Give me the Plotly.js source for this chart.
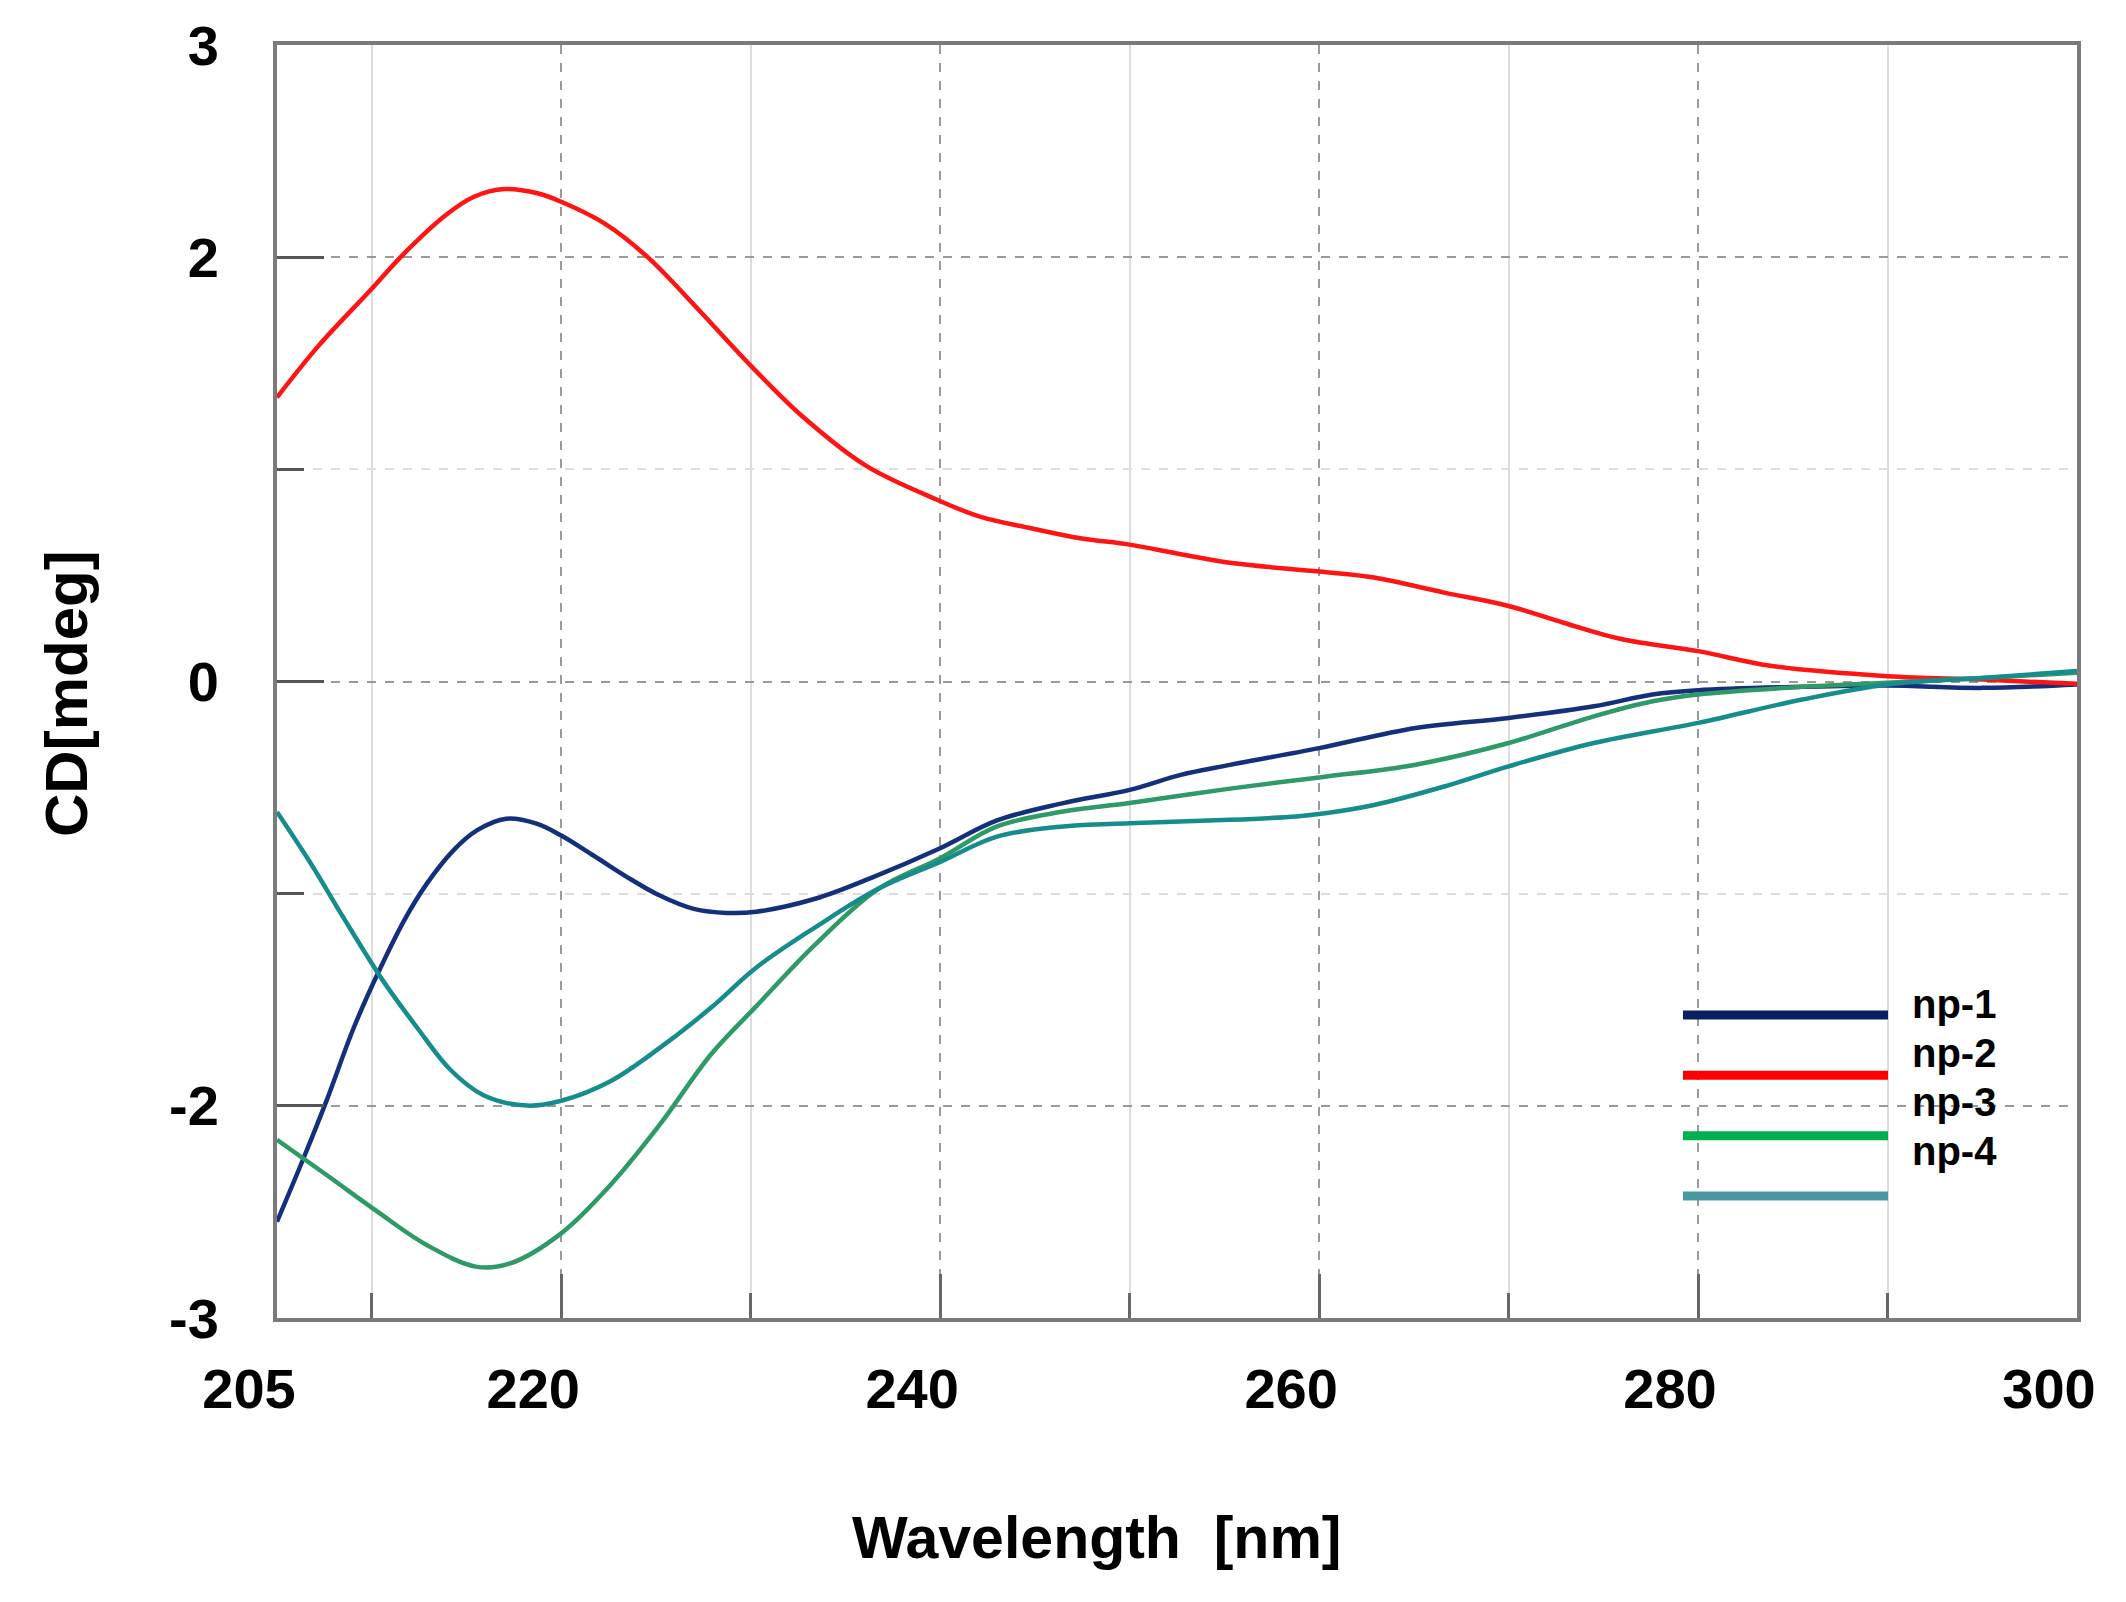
<!DOCTYPE html>
<html>
<head>
<meta charset="utf-8">
<script src="https://cdn.plot.ly/plotly-3.0.1.min.js"></script>
<style>
  html, body { margin: 0; padding: 0; background: #ffffff; }
  #chart { width: 2126px; height: 1602px; }
</style>
</head>
<body>
<div id="chart"></div>
<script>
// ---------- data ----------
const seriesNames = ['np-1', 'np-2', 'np-3', 'np-4'];

const np1Wavelength = [205, 206.4, 207.6, 209.05, 210.3, 211.7, 212.9, 214.3, 215.55, 217.1, 218.7, 220, 221.7, 223.5, 225.2, 227, 228.75, 230.3, 233.4, 236.4, 240, 243, 246.5, 250, 252.7, 255.3, 260, 265.1, 270, 274.5, 277.6, 280, 285.5, 290, 295, 300];
const np1CD = [-2.546, -2.247, -1.979, -1.632, -1.38, -1.128, -0.954, -0.797, -0.702, -0.647, -0.67, -0.726, -0.82, -0.923, -1.009, -1.072, -1.091, -1.085, -1.024, -0.924, -0.786, -0.655, -0.573, -0.511, -0.44, -0.393, -0.314, -0.219, -0.172, -0.117, -0.061, -0.041, -0.025, -0.019, -0.03, -0.014];

const np2Wavelength = [205, 207.2, 210, 211.7, 213.9, 215.4, 217, 218.8, 220, 222.3, 224.55, 227.2, 230, 232.8, 236.1, 239.8, 242.1, 244.8, 247.4, 250, 252.7, 255.5, 260, 262.9, 266.6, 270, 272.9, 276, 280, 283.9, 290, 295, 300];
const np2CD = [1.339, 1.583, 1.851, 2.017, 2.198, 2.285, 2.321, 2.3, 2.261, 2.158, 2.001, 1.757, 1.489, 1.244, 1.016, 0.858, 0.777, 0.722, 0.675, 0.645, 0.6, 0.557, 0.518, 0.49, 0.419, 0.356, 0.277, 0.199, 0.143, 0.073, 0.025, 0.009, -0.011];

const np3Wavelength = [205, 207.6, 210.3, 212.9, 215.55, 217.3, 220, 222.6, 225.2, 227.9, 230.3, 233.4, 236.7, 240, 243, 246.5, 250, 255.3, 260, 265.1, 270, 274.5, 277.6, 280, 285.5, 290, 295, 300];
const np3CD = [-2.16, -2.325, -2.499, -2.656, -2.759, -2.743, -2.601, -2.373, -2.089, -1.758, -1.53, -1.24, -0.98, -0.833, -0.683, -0.613, -0.573, -0.505, -0.452, -0.392, -0.29, -0.164, -0.093, -0.061, -0.025, -0.006, 0.017, 0.041];

const np4Wavelength = [205, 206.8, 208.5, 210.6, 212.4, 214.15, 215.9, 218.2, 220, 222.6, 225.2, 227.9, 230.3, 233.4, 236.7, 240, 243, 246.5, 250, 255.3, 258.8, 260, 262.9, 266.6, 270, 274.5, 280, 285.5, 290, 295, 300];
const np4CD = [-0.615, -0.86, -1.112, -1.411, -1.632, -1.83, -1.95, -1.999, -1.976, -1.884, -1.727, -1.538, -1.348, -1.159, -0.978, -0.85, -0.731, -0.683, -0.668, -0.652, -0.636, -0.625, -0.582, -0.495, -0.4, -0.29, -0.195, -0.085, -0.014, 0.017, 0.049];

const xTickValues = [205, 220, 240, 260, 280, 300];
const xTickLabels = ['205', '220', '240', '260', '280', '300'];
const xMinorTicks = [210, 230, 250, 270, 290];
const yTickValues = [-3, -2, 0, 2, 3];
const yTickLabels = ['-3', '-2', '0', '2', '3'];
const yMinorTicks = [-1, 1];

const xTitle = 'Wavelength\u00a0\u00a0[nm]';
const yTitle = 'CD[mdeg]';

// ---------- styling ----------
const curveColors = ['#15307a', '#ff1414', '#2f9a68', '#168c8c'];
const legendColors = ['#0b2060', '#ff0000', '#00b050', '#4a98a0'];
const FONT = 'Liberation Sans, Arial, Helvetica, sans-serif';

const xs = [np1Wavelength, np2Wavelength, np3Wavelength, np4Wavelength];
const ys = [np1CD, np2CD, np3CD, np4CD];

const traces = seriesNames.map((name, i) => ({
  type: 'scatter',
  mode: 'lines',
  name: name,
  x: xs[i],
  y: ys[i],
  line: { color: curveColors[i], width: 4.5, shape: 'spline', smoothing: 1.0 },
  showlegend: false,
  hoverinfo: 'skip'
}));

// custom legend (lines + labels placed like the reference)
const shapes = [];
const annotations = [];
seriesNames.forEach((name, i) => {
  const ly = 0.238 - i * 0.0474;
  shapes.push({
    type: 'line', xref: 'paper', yref: 'paper',
    x0: 0.7811, x1: 0.895, y0: ly, y1: ly,
    line: { color: legendColors[i], width: 9 }, layer: 'above'
  });
  annotations.push({
    xref: 'paper', yref: 'paper', x: 0.9072, y: 0.2467 - i * 0.0385,
    xanchor: 'left', yanchor: 'middle', showarrow: false,
    text: name, font: { family: FONT, size: 40, color: '#000', weight: 'bold' }
  });
});

annotations.push({
  xref: 'paper', yref: 'paper', x: 0.4556, y: -0.173,
  xanchor: 'center', yanchor: 'middle', showarrow: false,
  text: xTitle, font: { family: FONT, size: 59, color: '#000', weight: 'bold' }
});
annotations.push({
  xref: 'paper', yref: 'paper', x: -0.117, y: 0.4905,
  xanchor: 'center', yanchor: 'middle', showarrow: false, textangle: -90,
  text: yTitle, font: { family: FONT, size: 60, color: '#000', weight: 'bold' }
});

const tickFont = { family: FONT, size: 56, color: '#000', weight: 'bold' };

const layout = {
  width: 2126,
  height: 1602,
  margin: { l: 277, r: 49, t: 45, b: 284, pad: 0 },
  paper_bgcolor: '#ffffff',
  plot_bgcolor: '#ffffff',
  showlegend: false,
  xaxis: {
    range: [205, 300],
    tickmode: 'array', tickvals: xTickValues, ticktext: xTickLabels,
    ticks: 'inside', ticklen: 44, tickwidth: 3, tickcolor: '#666',
    tickfont: tickFont, ticklabelshift: -28, ticklabelstandoff: 19,
    showgrid: true, gridcolor: '#9a9a9a', gridwidth: 2, griddash: 'dash',
    minor: {
      tickmode: 'array', tickvals: xMinorTicks,
      ticks: 'inside', ticklen: 25, tickwidth: 3, tickcolor: '#666',
      showgrid: true, gridcolor: '#dddddd', gridwidth: 2, griddash: 'solid'
    },
    showline: true, linecolor: '#7a7a7a', linewidth: 4, mirror: true,
    zeroline: false
  },
  yaxis: {
    range: [-3, 3],
    tickmode: 'array', tickvals: yTickValues, ticktext: yTickLabels,
    ticks: 'inside', ticklen: 47, tickwidth: 3, tickcolor: '#555',
    tickfont: tickFont, ticklabelstandoff: 43,
    showgrid: true, gridcolor: '#9a9a9a', gridwidth: 2, griddash: 'dash',
    minor: {
      tickmode: 'array', tickvals: yMinorTicks,
      ticks: 'inside', ticklen: 27, tickwidth: 3, tickcolor: '#555',
      showgrid: true, gridcolor: '#dddddd', gridwidth: 2, griddash: 'dash'
    },
    showline: true, linecolor: '#7a7a7a', linewidth: 4, mirror: true,
    zeroline: false
  },
  shapes: shapes,
  annotations: annotations
};

Plotly.newPlot('chart', traces, layout, { staticPlot: true, displayModeBar: false });
</script>
</body>
</html>
